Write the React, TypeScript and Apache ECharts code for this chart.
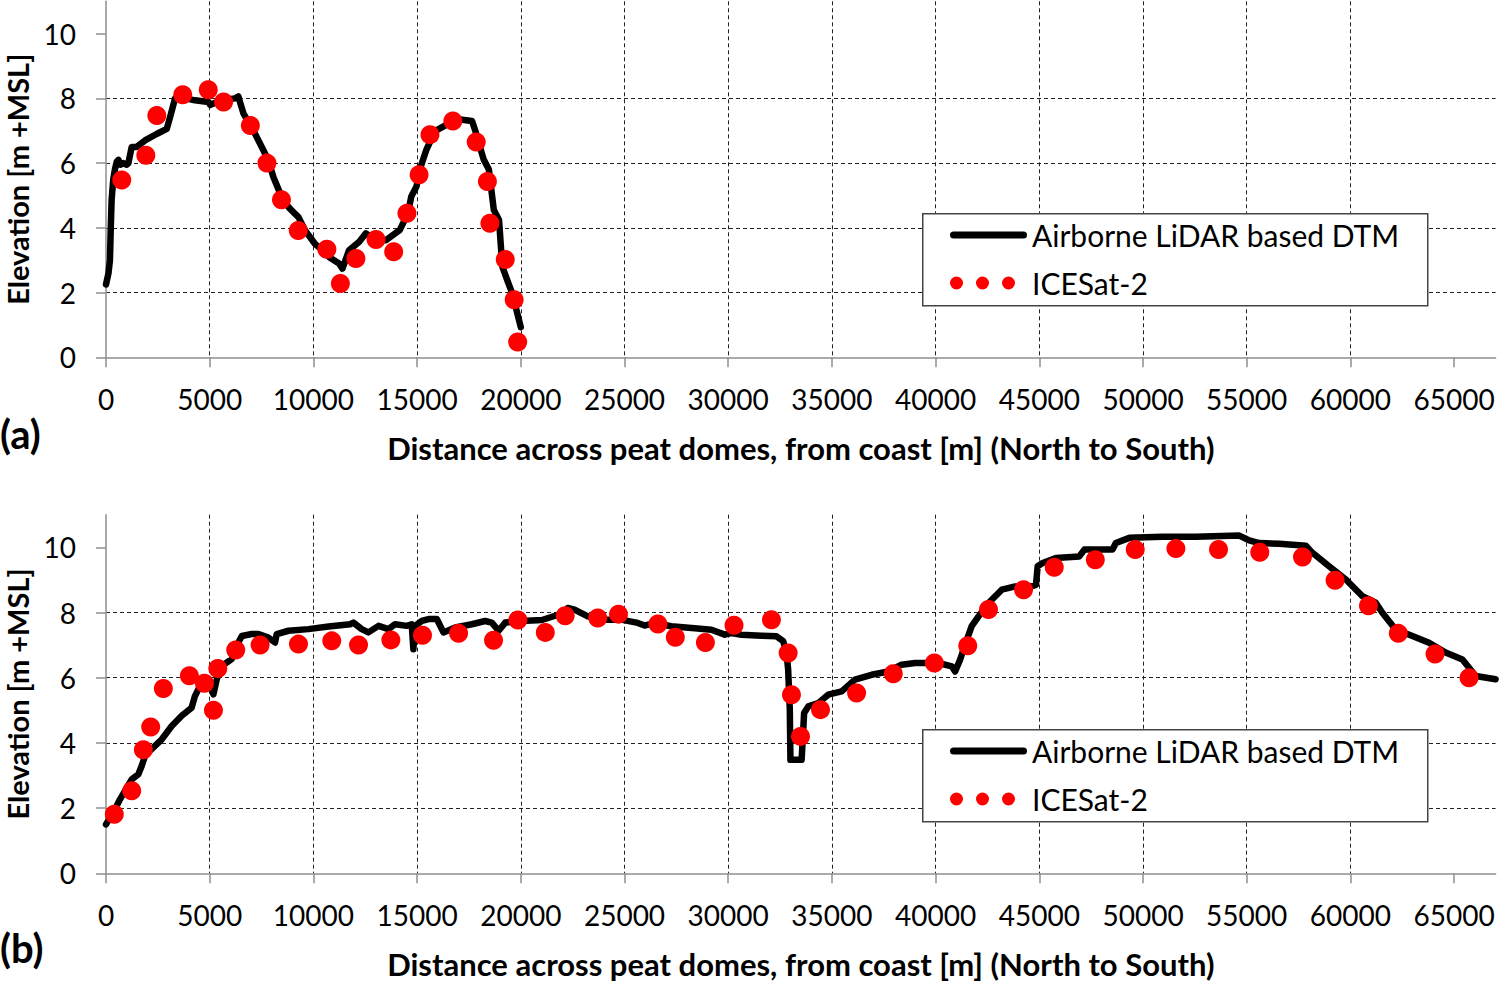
import React, { useEffect, useRef } from "react";
import * as echarts from "echarts";

// Panel (a): Airborne LiDAR DTM profile [distance m, elevation m]
const dtmA: number[][] = [
  [0, 2.25], [120, 2.6], [190, 3.0], [230, 4.0], [270, 4.85], [350, 5.5], [430, 5.8], [520, 6.05],
  [600, 6.1], [700, 5.95], [840, 6.0], [1000, 5.95], [1080, 6.0], [1240, 6.5], [1480, 6.5],
  [1880, 6.7], [2440, 6.9], [2930, 7.06], [3090, 7.42], [3330, 8.0], [3570, 8.04], [4290, 7.94],
  [4940, 7.89], [5020, 7.8], [5580, 7.94], [6220, 8.0], [6380, 8.06], [6630, 7.53], [7030, 7.1],
  [7510, 6.5], [7830, 6.08], [8070, 5.57], [8470, 4.95], [8800, 4.64], [9120, 4.43], [9280, 4.33],
  [9600, 3.92], [10080, 3.5], [10560, 3.25], [10750, 3.1], [11235, 2.9], [11400, 2.74],
  [11720, 3.31], [12210, 3.57], [12530, 3.83], [13020, 3.62], [13500, 3.62], [14160, 3.93],
  [14560, 4.45], [14720, 4.97], [14970, 5.28], [15130, 5.8], [15450, 6.42], [15860, 6.99],
  [16430, 7.19], [17080, 7.35], [17650, 7.3], [17810, 6.99], [18210, 6.11], [18460, 5.8],
  [18700, 4.55], [18950, 4.24], [19110, 2.8], [19350, 2.38], [19590, 1.97], [20000, 0.93],
];

// Panel (a): ICESat-2 points
const iceA: number[][] = [
  [760, 5.48], [1920, 6.24], [2450, 7.47], [3700, 8.11], [4930, 8.27], [5670, 7.89], [6960, 7.16],
  [7760, 6.0], [8460, 4.87], [9270, 3.92], [10650, 3.34], [11300, 2.28], [12050, 3.05],
  [13020, 3.64], [13870, 3.26], [14510, 4.45], [15095, 5.64], [15620, 6.88], [16725, 7.3],
  [17850, 6.65], [18390, 5.43], [18510, 4.14], [19250, 3.02], [19680, 1.78], [19850, 0.47],
];

// Panel (b): Airborne LiDAR DTM profile
const dtmB: number[][] = [
  [0, 1.5], [430, 1.96], [675, 2.27], [1240, 2.88], [1560, 3.04], [1720, 3.29], [1880, 3.6],
  [2200, 3.81], [2690, 4.11], [3170, 4.52], [3650, 4.83], [4130, 5.08], [4290, 5.44], [4540, 5.75],
  [4780, 5.95], [5020, 5.75], [5180, 5.49], [5340, 5.95], [5580, 6.36], [6060, 6.57], [6380, 7.08],
  [6550, 7.28], [7030, 7.34], [7350, 7.34], [7830, 7.23], [8150, 7.08], [8230, 7.34], [8800, 7.44],
  [9760, 7.49], [10730, 7.57], [11770, 7.64], [11930, 7.69], [12330, 7.49], [12650, 7.39],
  [13140, 7.59], [13620, 7.49], [13940, 7.64], [14500, 7.59], [14740, 7.64], [14820, 6.87],
  [14900, 7.59], [15230, 7.74], [15550, 7.8], [15950, 7.8], [16270, 7.39], [16840, 7.54],
  [17640, 7.64], [18280, 7.74], [18600, 7.69], [18930, 7.44], [19250, 7.69], [20050, 7.74],
  [21020, 7.77], [22140, 8.0], [22260, 8.14], [22590, 8.09], [23230, 7.88], [24030, 7.78],
  [24840, 7.78], [25640, 7.68], [25970, 7.6], [26450, 7.68], [27250, 7.58], [28380, 7.52],
  [29190, 7.47], [29830, 7.32], [30150, 7.37], [30640, 7.32], [31600, 7.29], [32330, 7.27],
  [32650, 7.12], [32810, 6.76], [32890, 6.25], [32970, 5.02], [33000, 3.48], [33540, 3.48],
  [33660, 4.92], [33860, 5.12], [34340, 5.22], [34820, 5.48], [35470, 5.58], [36110, 5.94],
  [36910, 6.09], [37720, 6.19], [38360, 6.4], [39010, 6.45], [40130, 6.45], [40780, 6.35],
  [40940, 6.19], [41180, 6.55], [41420, 7.01], [41740, 7.58], [42070, 7.88], [42550, 8.29],
  [43190, 8.7], [43840, 8.8], [44600, 8.8], [44840, 8.85], [44920, 9.42], [45160, 9.52],
  [45800, 9.67], [46930, 9.72], [47170, 9.93], [48530, 9.93], [48690, 10.13], [49340, 10.29],
  [50940, 10.32], [52550, 10.32], [54640, 10.36], [55120, 10.21], [55600, 10.13], [56560, 10.11],
  [57850, 10.05], [58170, 9.83], [58970, 9.42], [59780, 9.01], [60580, 8.5], [61220, 8.3],
  [61540, 7.99], [62180, 7.48], [62990, 7.28], [63790, 7.07], [64590, 6.77], [65400, 6.56],
  [66040, 6.05], [67000, 5.95],
];

// Panel (b): ICESat-2 points
const iceB: number[][] = [
  [400, 1.81], [1240, 2.53], [1800, 3.79], [2155, 4.49], [2765, 5.67], [4020, 6.06], [4745, 5.83],
  [5180, 5.0], [5390, 6.28], [6255, 6.85], [7430, 7.0], [9280, 7.03], [10885, 7.13], [12175, 7.0],
  [13735, 7.16], [15260, 7.3], [17000, 7.36], [18685, 7.15], [19860, 7.77], [21180, 7.39],
  [22140, 7.9], [23710, 7.83], [24710, 7.95], [26610, 7.65], [27450, 7.24], [28900, 7.08],
  [30280, 7.61], [32085, 7.78], [32890, 6.76], [33050, 5.48], [33485, 4.2], [34450, 5.02],
  [36190, 5.53], [37960, 6.12], [39940, 6.45], [41550, 6.98], [42550, 8.09], [44240, 8.7],
  [45720, 9.39], [47700, 9.62], [49625, 9.93], [51585, 9.96], [53640, 9.93], [55630, 9.85],
  [57690, 9.7], [59260, 8.99], [60870, 8.21], [62310, 7.36], [64080, 6.73], [65720, 6.0],
];

const xTicks: number[] = [0, 5000, 10000, 15000, 20000, 25000, 30000, 35000, 40000, 45000, 50000, 55000, 60000, 65000];
const yTicks: number[] = [0, 2, 4, 6, 8, 10];

const DTM_NAME = "Airborne LiDAR based DTM";
const ICE_NAME = "ICESat-2";
const X_TITLE = "Distance across peat domes, from coast [m] (North to South)";
const Y_TITLE = "Elevation [m +MSL]";

const FONT = "Lato";
const AXIS_GRAY = "#8f8f8f";
const GRID_DARK = "#222222";

const lineIcon =
  "path://M0 0 M77 14 M3.5 3.5 L73.5 3.5 A3.5 3.5 0 0 1 73.5 10.5 L3.5 10.5 A3.5 3.5 0 0 1 3.5 3.5 Z";
const dotsIcon =
  "path://M0 0 M77 14 M0 7 A6.5 6.5 0 1 0 13 7 A6.5 6.5 0 1 0 0 7 Z M26 7 A6.5 6.5 0 1 0 39 7 A6.5 6.5 0 1 0 26 7 Z M52 7 A6.5 6.5 0 1 0 65 7 A6.5 6.5 0 1 0 52 7 Z";

function xAxisCfg(gridIndex: number) {
  return {
    type: "value",
    gridIndex,
    min: 0,
    max: 67000,
    interval: 5000,
    name: X_TITLE,
    nameLocation: "middle",
    nameGap: 75,
    nameTextStyle: { fontFamily: FONT, fontSize: 31, lineHeight: 31, fontWeight: "bold", color: "#000" },
    axisLine: { show: true, lineStyle: { color: AXIS_GRAY, width: 1.5 } },
    axisTick: { show: true, inside: false, length: 10, customValues: xTicks, lineStyle: { color: AXIS_GRAY, width: 1.5 } },
    axisLabel: {
      customValues: xTicks,
      margin: 28,
      fontFamily: FONT,
      fontSize: 28,
      color: "#000",
      formatter: (v: number) => String(v),
    },
    splitLine: {
      show: true,
      showMinLine: false,
      showMaxLine: false,
      lineStyle: { color: GRID_DARK, width: 1, type: [4, 3] },
    },
  };
}

function yAxisCfg(gridIndex: number) {
  return {
    type: "value",
    gridIndex,
    min: 0,
    max: 11,
    interval: 2,
    name: Y_TITLE,
    nameLocation: "middle",
    nameGap: 74,
    nameTextStyle: { fontFamily: FONT, fontSize: 29, fontWeight: "bold", color: "#000" },
    axisLine: { show: true, lineStyle: { color: AXIS_GRAY, width: 1.5 } },
    axisTick: { show: true, inside: false, length: 10, customValues: yTicks, lineStyle: { color: AXIS_GRAY, width: 1.5 } },
    axisLabel: {
      customValues: yTicks,
      margin: 30,
      fontFamily: FONT,
      fontSize: 28,
      color: "#000",
      formatter: (v: number) => String(v),
    },
    splitLine: {
      show: true,
      showMinLine: false,
      showMaxLine: false,
      lineStyle: { color: GRID_DARK, width: 1, type: [4, 3] },
    },
  };
}

function legendCfg(top: number) {
  return {
    left: 950,
    top,
    orient: "vertical",
    padding: 0,
    itemGap: 18,
    itemWidth: 77,
    itemHeight: 14,
    itemTextGap: 5,
    selectedMode: false,
    z: 10,
    textStyle: { fontFamily: FONT, fontSize: 30, lineHeight: 30, color: "#000" },
    data: [
      { name: DTM_NAME, icon: lineIcon, itemStyle: { color: "#000" } },
      { name: ICE_NAME, icon: dotsIcon, itemStyle: { color: "#ff0000" } },
    ],
  };
}

function legendBox(top: number) {
  return {
    type: "rect",
    left: 922,
    top,
    z: 9,
    shape: { width: 505, height: 92 },
    style: { fill: "#ffffff", stroke: "#444444", lineWidth: 1.5 },
  };
}

function lineSeries(data: number[][], idx: number) {
  return {
    type: "line",
    name: DTM_NAME,
    xAxisIndex: idx,
    yAxisIndex: idx,
    data,
    symbol: "none",
    color: "#000",
    lineStyle: { color: "#000", width: 6.5, cap: "round", join: "round" },
    z: 3,
  };
}

function dotSeries(data: number[][], idx: number) {
  return {
    type: "scatter",
    name: ICE_NAME,
    xAxisIndex: idx,
    yAxisIndex: idx,
    data,
    symbol: "circle",
    symbolSize: 19,
    color: "#ff0000",
    itemStyle: { color: "#ff0000", opacity: 1 },
    z: 4,
  };
}

export default function App() {
  const ref = useRef<HTMLDivElement>(null);

  useEffect(() => {
    if (!ref.current) return;
    const chart = echarts.init(ref.current, null, { renderer: "svg" });
    const option = {
      animation: false,
      backgroundColor: "#ffffff",
      title: [
        { text: "(a)", left: 0, top: 414, padding: 0, textStyle: { fontFamily: FONT, fontSize: 40, fontWeight: "bold", color: "#000" } },
        { text: "(b)", left: 0, top: 928, padding: 0, textStyle: { fontFamily: FONT, fontSize: 40, fontWeight: "bold", color: "#000" } },
      ],
      grid: [
        { left: 106, top: 1.3, width: 1389.6, height: 356, outerBoundsMode: "none", containLabel: false },
        { left: 106, top: 514.7, width: 1389.6, height: 358.6, outerBoundsMode: "none", containLabel: false },
      ],
      xAxis: [xAxisCfg(0), xAxisCfg(1)],
      yAxis: [yAxisCfg(0), yAxisCfg(1)],
      legend: [legendCfg(220), legendCfg(736)],
      graphic: [legendBox(213), legendBox(729)],
      series: [lineSeries(dtmA, 0), dotSeries(iceA, 0), lineSeries(dtmB, 1), dotSeries(iceB, 1)],
    };
    chart.setOption(option as any);
    return () => {
      chart.dispose();
    };
  }, []);

  return (
    <div
      ref={ref}
      style={{ position: "absolute", left: 0, top: 0, width: 1500, height: 982, background: "#fff" }}
    />
  );
}
